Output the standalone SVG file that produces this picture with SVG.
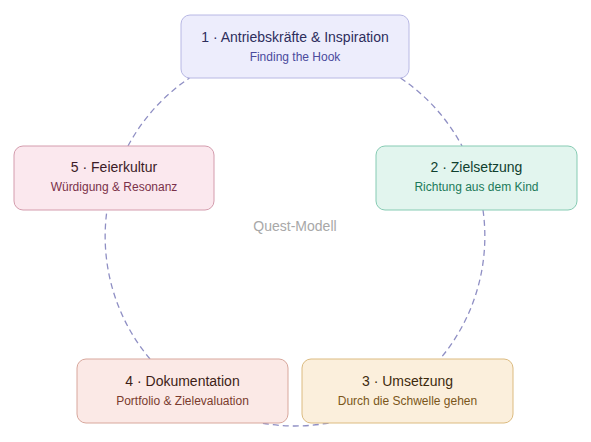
<svg xmlns="http://www.w3.org/2000/svg" width="591" height="442" viewBox="0 0 591 442">
<style>
.arc{fill:none;stroke:#8f8fc4;stroke-width:1.3;stroke-dasharray:6 4}
.t{font-family:"Liberation Sans",Arial,sans-serif;font-size:14px;text-anchor:middle}
.s{font-family:"Liberation Sans",Arial,sans-serif;font-size:12px;text-anchor:middle}
.c{font-family:"Liberation Sans",Arial,sans-serif;font-size:14px;text-anchor:middle;fill:#a8a8a8}
</style>
<rect width="591" height="442" fill="#ffffff"/>
<text class="c" x="295" y="231">Quest-Modell</text>
<g id="connectors">
<path class="arc" d="M400.5,78 A190,190 0 0 1 462,146"/>
<path class="arc" d="M483,210 A190,190 0 0 1 440,359"/>
<path class="arc" d="M328.6,423 A190,190 0 0 1 261.4,423"/>
<path class="arc" d="M150,359 A190,190 0 0 1 107,210"/>
<path class="arc" d="M128,146 A190,190 0 0 1 189.5,78"/>
</g>
<g id="node1">
<rect x="181" y="15" width="228" height="63" rx="9" fill="#ededfc" stroke="#b8b8e4"/>
<text class="t" x="295" y="42" fill="#2e2e5c">1 · Antriebskräfte &amp; Inspiration</text>
<text class="s" x="295" y="61" fill="#4a4a9c">Finding the Hook</text>
</g>
<g id="node2">
<rect x="376" y="146" width="201" height="64" rx="9" fill="#e2f5ee" stroke="#86cbb3"/>
<text class="t" x="476.5" y="172" fill="#10402f">2 · Zielsetzung</text>
<text class="s" x="476.5" y="191" fill="#1c7a5a">Richtung aus dem Kind</text>
</g>
<g id="node3">
<rect x="302" y="359" width="211" height="64" rx="9" fill="#fbefdc" stroke="#dcbb80"/>
<text class="t" x="407.5" y="386" fill="#3e2b0e">3 · Umsetzung</text>
<text class="s" x="407.5" y="405" fill="#7a561a">Durch die Schwelle gehen</text>
</g>
<g id="node4">
<rect x="77" y="359" width="211" height="64" rx="9" fill="#fbe9e6" stroke="#d8a79c"/>
<text class="t" x="182.5" y="386" fill="#3e1e16">4 · Dokumentation</text>
<text class="s" x="182.5" y="405" fill="#7a3b2d">Portfolio &amp; Zielevaluation</text>
</g>
<g id="node5">
<rect x="14" y="146" width="200" height="64" rx="9" fill="#fbe8ee" stroke="#d49cad"/>
<text class="t" x="114" y="172" fill="#3c1b27">5 · Feierkultur</text>
<text class="s" x="114" y="191" fill="#7a3149">Würdigung &amp; Resonanz</text>
</g>
</svg>
